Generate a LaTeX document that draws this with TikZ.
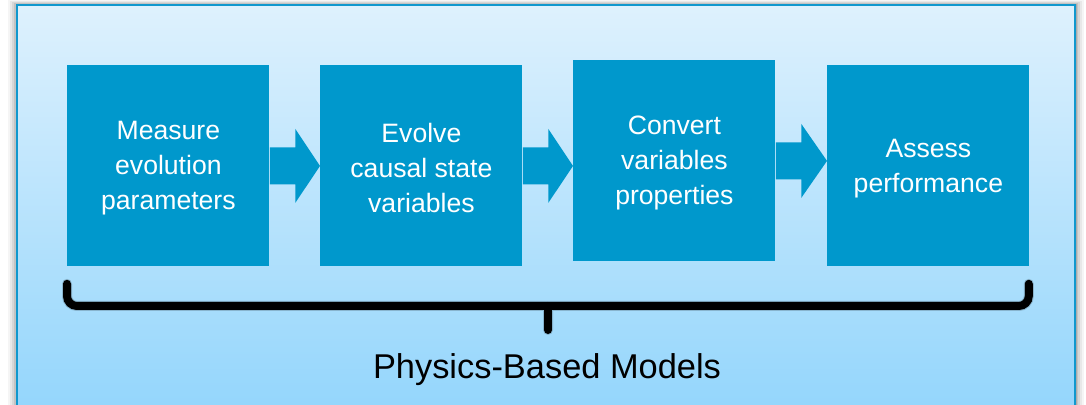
\documentclass[tikz,border=0pt]{standalone}
\usepackage{fontspec}
\setmainfont{Liberation Sans}
\usetikzlibrary{calc}
\definecolor{stepblue}{HTML}{0098CC}
\definecolor{paneltop}{HTML}{DEF1FD}
\definecolor{panelbot}{HTML}{92D5FC}
\definecolor{panelline}{HTML}{1098CE}
\begin{document}
\begin{tikzpicture}[x=0.5pt,y=-0.5pt,
  stepbox/.style={fill=stepblue, minimum width=101pt, minimum height=100.5pt,
    inner sep=0pt, anchor=north west},
  steptext/.style={text=white, align=center, inner sep=0pt,
    font=\fontsize{13.3pt}{17.5pt}\selectfont},
  flowarrow/.style={fill=stepblue},
  bracketline/.style={line width=4pt, line cap=round, rounded corners=5pt}]
\useasboundingbox (0,0) rectangle (1086,405);
% page background and soft panel shadow
\fill[white] (0,0) rectangle (1086,405);
\foreach \s/\o in {9/0.04,7/0.05,5/0.07,3/0.09,1.5/0.12}
  \fill[black,opacity=\o] (17-\s,5-\s*0.6) rectangle (1075+\s,420);
% gradient panel
\shade[top color=paneltop, bottom color=panelbot] (17,5) rectangle (1075,420);
\draw[panelline, line width=1pt] (17,5) rectangle (1075,420);
% process steps
\node[stepbox] (b1) at (67,65) {};
\node[stepbox] (b2) at (320,65) {};
\node[stepbox] (b3) at (573,60) {};
\node[stepbox] (b4) at (827,65) {};
\node[steptext] (t1) at ($(b1.center)+(0,2.5)$) {Measure\\evolution\\parameters};
\node[steptext] (t2) at ($(b2.center)+(0,2.5)$) {Evolve\\causal state\\variables};
\node[steptext] (t3) at ($(b3.center)+(0,2.5)$) {Convert\\variables\\properties};
\node[steptext] (t4) at ($(b4.center)+(0,2.5)$) {Assess\\performance};
% block arrows between steps
\foreach \a/\b in {b1/b2,b2/b3,b3/b4}{
  \fill[flowarrow] ($(\a.east)+(0,-18.5)$) -- ($(\a.east)+(25.5,-18.5)$)
    -- ($(\a.east)+(25.5,-37)$) -- (\b.west |- \a.east) -- ($(\a.east)+(25.5,37)$)
    -- ($(\a.east)+(25.5,18.5)$) -- ($(\a.east)+(0,18.5)$) -- cycle;
}
% brace under the steps
\coordinate (bl) at ($(b1.south west)+(0,17)$);
\coordinate (br) at ($(b4.south east)+(-1,17)$);
\coordinate (bm) at (548,306);
\begin{scope}[yshift=-2pt, xshift=0.5pt]
  \draw[bracketline, draw=black, opacity=0.18, line width=5pt]
    (bl) |- (bm) -| (br) (bm) -- ++(0,24);
\end{scope}
\draw[bracketline] (bl) |- (bm) -| (br);
\draw[line width=4pt, line cap=round] (bm) -- ++(0,24);
% caption
\node[font=\fontsize{17.2pt}{20pt}\selectfont] (cap) at (547,370) {Physics-Based Models};
\end{tikzpicture}
\end{document}
